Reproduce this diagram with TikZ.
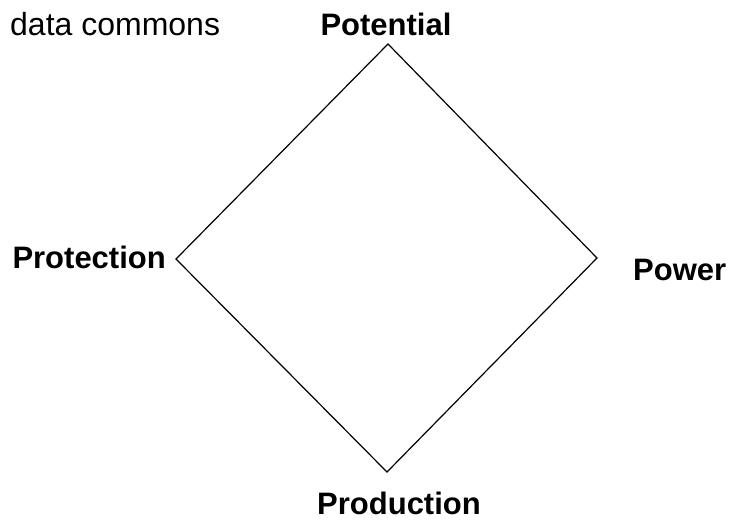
\documentclass[tikz,border=0pt]{standalone}
\usepackage{fontspec}
\setmainfont{Liberation Sans}
\tikzset{
	corner/.style={font=\fontsize{31}{31}\selectfont\bfseries, inner sep=0pt},
	title/.style={font=\fontsize{32}{32}\selectfont, inner sep=0pt}
}
\begin{document}
\begin{tikzpicture}[x=1pt, y=-1pt]
	\useasboundingbox (0,0) rectangle (731,523);
	% Ecken der Raute
	\coordinate (top) at (388,44);
	\coordinate (right) at (597,258);
	\coordinate (bottom) at (387,472);
	\coordinate (left) at (176,259);
	\draw[line width=1.2pt, line join=miter] (top) -- (right) -- (bottom) -- (left) -- cycle;
	% Beschriftungen
	\node[title, anchor=base west] (commons) at (10,35) {data commons};
	\node[corner, anchor=base] (potential) at (386,35) {Potential};
	\node[corner, anchor=base east] (protection) at (166,268) {Protection};
	\node[corner, anchor=base west] (power) at (633,280) {Power};
	\node[corner, anchor=base west] (production) at (317,514) {Production};
\end{tikzpicture}
\end{document}
